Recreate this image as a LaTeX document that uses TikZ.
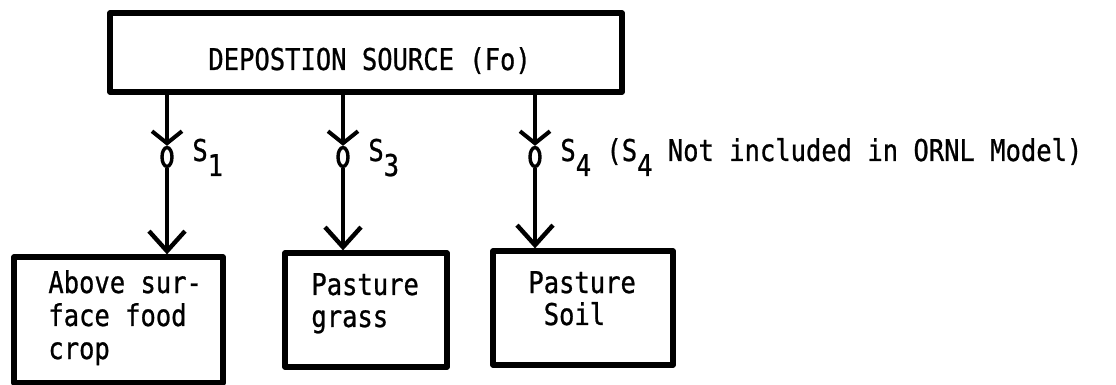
\documentclass[tikz,border=0pt]{standalone}
\usepackage{fontspec}
\newfontfamily\tw[FakeStretch=0.85,FakeBold=0.8]{DejaVu Sans Mono}
\usetikzlibrary{arrows.meta,shapes.geometric}

\begin{document}
\begin{tikzpicture}[x=0.5pt,y=-0.5pt,
  box/.style={draw,line width=2.6pt,inner sep=0,line join=round},
  lbl/.style={inner sep=0,anchor=base west,font=\tw\fontsize{15}{16.5}\selectfont},
  flow/.style={line width=2.4pt,-{Straight Barb[length=6pt,width=15pt,line width=2pt]}},
  feed/.style={line width=2.4pt,-{Straight Barb[length=10pt,width=18pt,line width=2.2pt]}},
  valve/.style={draw,ellipse,line width=1.7pt,minimum width=5pt,minimum height=9.5pt,inner sep=0},
]
\useasboundingbox (0,0) rectangle (1116,385);

% boxes
\node[box,minimum width=256pt,minimum height=39.5pt] (src) at (366,52.5) {};
\node[box,minimum width=104.5pt,minimum height=63pt] (crop) at (118.5,320) {};
\node[box,minimum width=81pt,minimum height=57pt] (grass) at (366,310) {};
\node[box,minimum width=90pt,minimum height=57pt] (soil) at (583,308) {};

% box texts
\node[lbl] (srct) at (208,70) {DEPOSTION SOURCE (Fo)};
\node[lbl] (cropa) at (48,293) {Above sur-};
\node[lbl] (cropb) at (48,326) {face food};
\node[lbl] (cropc) at (48,359) {crop};
\node[lbl] (grassa) at (311,295) {Pasture};
\node[lbl] (grassb) at (311,327) {grass};
\node[lbl] (soila) at (528,293) {Pasture};
\node[lbl] (soilb) at (528,325) {\ Soil};

% valves on the transfer lines
\node[valve] (v1) at (167,157) {};
\node[valve] (v3) at (343,157) {};
\node[valve] (v4) at (535,157) {};

% transfer lines
\draw[flow] (v1 |- src.south) -- (v1.north);
\draw[flow] (v3 |- src.south) -- (v3.north);
\draw[flow] (v4 |- src.south) -- (v4.north);
\draw[feed] (v1.south) -- (v1 |- crop.north);
\draw[feed] (v3.south) -- (v3 |- grass.north);
\draw[feed] (v4.south) -- (v4 |- soil.north);

% transfer labels
\node[lbl] (s1) at (192,161) {S\raisebox{-7.5pt}{1}};
\node[lbl] (s3) at (368,161) {S\raisebox{-7.5pt}{3}};
\node[lbl] (s4) at (560,161) {S\raisebox{-7.5pt}{4} (S\raisebox{-7.5pt}{4} Not included in ORNL Model)};
\end{tikzpicture}
\end{document}
